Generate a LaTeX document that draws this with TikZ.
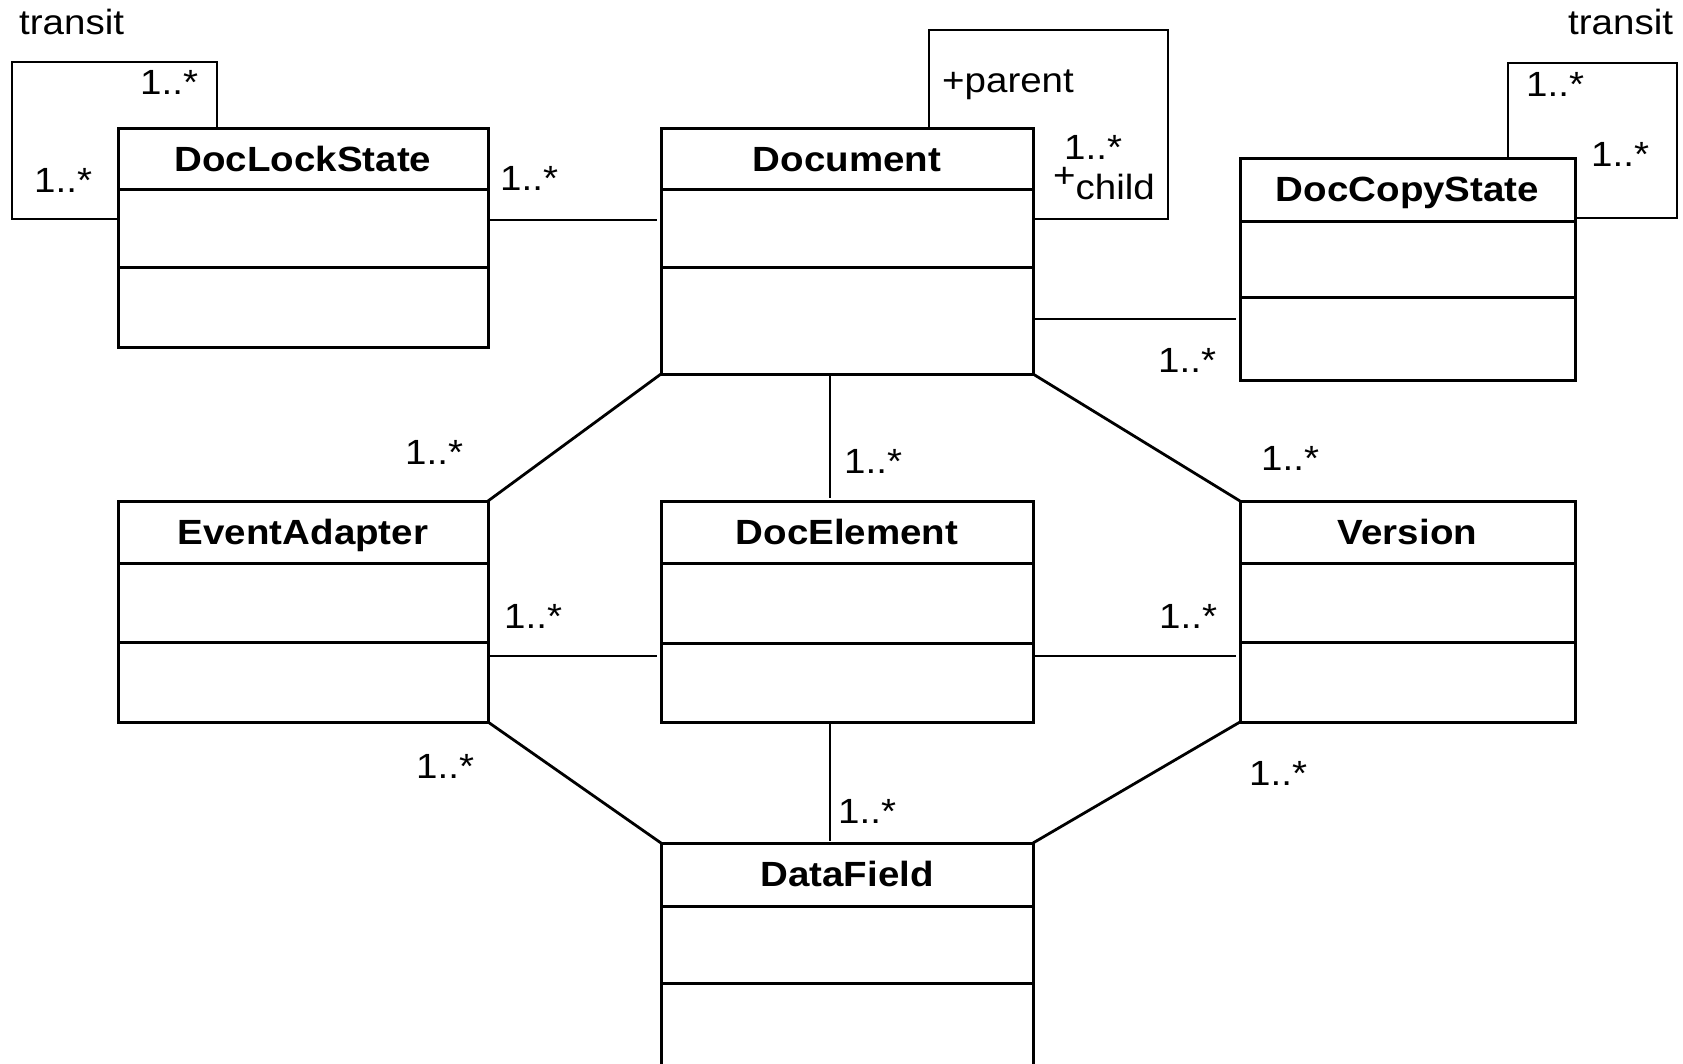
\documentclass[tikz,border=0pt]{standalone}
\usepackage{fontspec}
\setmainfont{Liberation Sans}[FakeStretch=1.1]
\usetikzlibrary{calc}

% one UML class: name, x, y, width, height, divider 1, divider 2, title
\newcommand\umlclass[8]{%
  \node[classbox, minimum width=#4pt, minimum height=#5pt] (#1) at (#2,#3) {};
  \draw[divider] ([yshift=-#6pt]#1.north west) -- ([yshift=-#6pt]#1.north east);
  \draw[divider] ([yshift=-#7pt]#1.north west) -- ([yshift=-#7pt]#1.north east);
  \node[classtitle] at ([yshift=-43pt]#1.north) {#8};
}

\tikzset{
  classbox/.style={draw, line width=3pt, rectangle, anchor=north west,
    inner sep=0pt, outer sep=0pt},
  divider/.style={line width=3pt},
  classtitle/.style={anchor=base, inner sep=0pt,
    font=\fontsize{35}{42}\selectfont\bfseries},
  assoc/.style={line width=2.8pt},
  lab/.style={anchor=base west, inner sep=0pt,
    font=\fontsize{35}{42}\selectfont},
}

\begin{document}
\begin{tikzpicture}[x=1pt,y=-1pt]
  \fill[white] (0,0) rectangle (1683,1064);
  \useasboundingbox (0,0) rectangle (1683,1064);

  % classes
  \umlclass{doclock}{118}{129}{370}{219}{61}{139}{DocLockState}
  \umlclass{doc}{661}{129}{372}{245}{61}{139}{Document}
  \umlclass{doccopy}{1240}{159}{335}{221}{63}{139}{DocCopyState}
  \umlclass{event}{118}{501}{370}{221}{62}{141}{EventAdapter}
  \umlclass{docel}{661}{501}{372}{221}{62}{142}{DocElement}
  \umlclass{version}{1240}{501}{335}{221}{62}{141}{Version}
  \umlclass{datafield}{661}{843}{372}{228}{63}{140}{DataField}

  % self associations
  \draw[assoc] ([xshift=99pt]doclock.north west) -- ++(0,-67) -- ++(-205,0)
    -- ++(0,157) -- (doclock.west |- 0,219);
  \draw[assoc] ([xshift=268pt]doc.north west) -- ++(0,-99) -- ++(239,0)
    -- ++(0,189) -- (doc.east |- 0,219);
  \draw[assoc] ([xshift=268pt]doccopy.north west) -- ++(0,-96) -- ++(169,0)
    -- ++(0,155) -- (doccopy.east |- 0,218);

  % horizontal associations
  \draw[assoc, shorten >=4pt] (doclock.east |- 0,220) -- (doc.west |- 0,220);
  \draw[assoc, shorten >=4pt] (doc.east |- 0,319) -- (doccopy.west |- 0,319);
  \draw[assoc, shorten >=4pt] (event.east |- 0,656) -- (docel.west |- 0,656);
  \draw[assoc, shorten >=4pt] (docel.east |- 0,656) -- (version.west |- 0,656);

  % vertical associations
  \draw[assoc, shorten >=3pt] (doc.south -| 830,0) -- (docel.north -| 830,0);
  \draw[assoc, shorten >=2pt] (docel.south -| 830,0) -- (datafield.north -| 830,0);

  % diagonal associations
  \draw[assoc] (doc.south west) -- (event.north east);
  \draw[assoc] (doc.south east) -- (version.north west);
  \draw[assoc] (event.south east) -- (datafield.north west);
  \draw[assoc] (version.south west) -- (datafield.north east);

  % role names and multiplicities
  \node[lab] (t1) at (19,35) {transit};
  \node[lab] (m1) at (140,95) {1..*};
  \node[lab] (m2) at (34,193) {1..*};
  \node[lab] (m3) at (500,191) {1..*};
  \node[lab] (r1) at (942,93) {+parent};
  \node[lab] (m4) at (1064,160) {1..*};
  \node[lab] (r2) at (1053,200) {\smash{\raisebox{12pt}{+}}child};
  \node[lab] (t2) at (1568,35) {transit};
  \node[lab] (m5) at (1526,97) {1..*};
  \node[lab] (m6) at (1591,167) {1..*};
  \node[lab] (m7) at (1158,372) {1..*};
  \node[lab] (m8) at (405,464) {1..*};
  \node[lab] (m9) at (844,473) {1..*};
  \node[lab] (m10) at (1261,470) {1..*};
  \node[lab] (m11) at (504,628) {1..*};
  \node[lab] (m12) at (1159,628) {1..*};
  \node[lab] (m13) at (416,778) {1..*};
  \node[lab] (m14) at (838,823) {1..*};
  \node[lab] (m15) at (1249,785) {1..*};
\end{tikzpicture}
\end{document}
